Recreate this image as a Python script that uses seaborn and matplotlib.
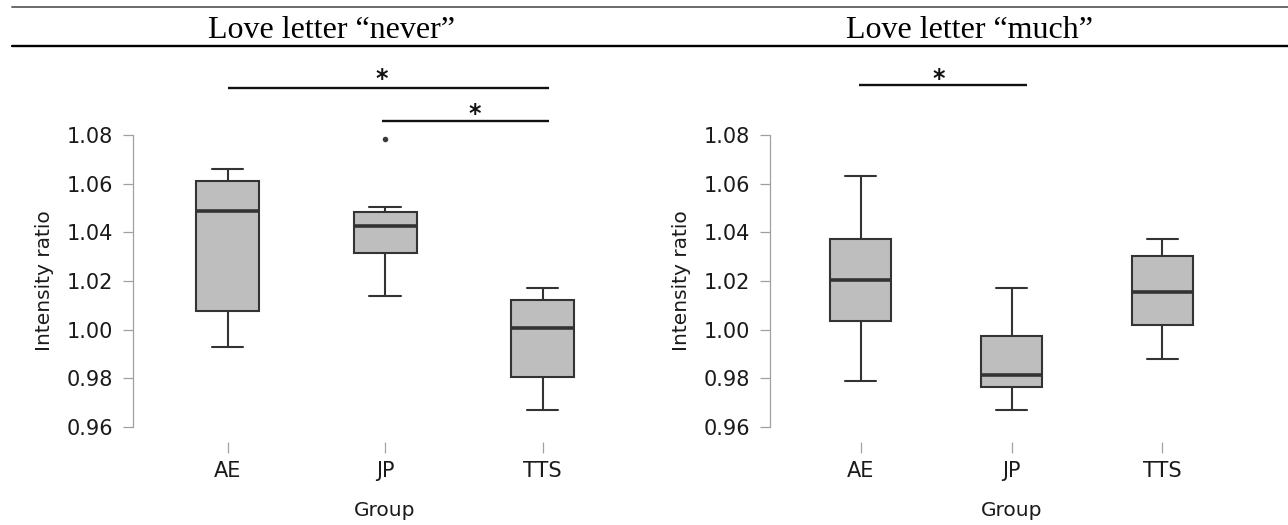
import numpy as np
import pandas as pd
import matplotlib
matplotlib.use("Agg")
import matplotlib.pyplot as plt
import matplotlib.transforms as mtransforms
from matplotlib.lines import Line2D
import seaborn as sns

# ---------------- data ----------------
groups = ["AE", "JP", "TTS"]

# Love letter "never": five-number summaries per group
never_min = [0.993, 1.014, 0.967]
never_q1 = [1.0076, 1.0315, 0.9805]
never_median = [1.0487, 1.0426, 1.0006]
never_q3 = [1.0610, 1.0485, 1.0122]
never_max = [1.066, 1.0503, 1.017]
never_outlier_groups = ["JP"]
never_outliers = [1.0784]

# Love letter "much"
much_min = [0.979, 0.967, 0.988]
much_q1 = [1.0035, 0.9765, 1.0018]
much_median = [1.0203, 0.9815, 1.0153]
much_q3 = [1.0373, 0.9973, 1.0302]
much_max = [1.063, 1.0172, 1.0372]

titles = ["Love letter \u201cnever\u201d", "Love letter \u201cmuch\u201d"]
y_ticks = [0.96, 0.98, 1.00, 1.02, 1.04, 1.06, 1.08]
y_label = "Intensity ratio"
x_label = "Group"

# significance annotations: (start group index, end group index)
never_sig = [(0.0, 2.04), (0.98, 2.04)]
much_sig = [(-0.01, 1.10)]


def long_frame(mins, q1s, meds, q3s, maxs):
    rows = []
    for g, a, b, c, d, e in zip(groups, mins, q1s, meds, q3s, maxs):
        for v in (a, b, c, d, e):
            rows.append({"Group": g, "ratio": v})
    return pd.DataFrame(rows)


never_df = long_frame(never_min, never_q1, never_median, never_q3, never_max)
much_df = long_frame(much_min, much_q1, much_median, much_q3, much_max)

# ---------------- style ----------------
sns.set_theme(style="ticks")
plt.rcParams["font.family"] = ["DejaVu Sans"]
TXT = "#1a1a1a"
AXC = "#a0a0a0"
LINEC = "#333333"

W, H = 1288, 525
fig = plt.figure(figsize=(W / 100, H / 100), dpi=100)
fig.patch.set_facecolor("white")

ax1 = fig.add_axes([133 / W, 98 / H, 504 / W, 292 / H])
ax2 = fig.add_axes([770 / W, 98 / H, 483 / W, 292 / H])


def draw_panel(ax, df, out_groups=None, outliers=None):
    sns.boxplot(
        data=df, x="Group", y="ratio", order=groups, ax=ax,
        color="#BEBEBE", saturation=1, width=0.4,
        linecolor=LINEC, linewidth=1.5, whis=np.inf, showfliers=False,
        medianprops=dict(linewidth=2.6, color=LINEC),
    )
    if outliers:
        sns.stripplot(x=out_groups, y=outliers, order=groups, ax=ax,
                      jitter=False, color="#3a3a3a", size=4.0, zorder=4)
    ax.set_xlim(-0.6, 2.6)
    ax.set_ylim(0.96, 1.08)
    ax.set_yticks(y_ticks)
    ax.set_yticklabels([f"{t:.2f}" for t in y_ticks])
    ax.set_xticks(range(len(groups)))
    ax.set_xticklabels(groups)
    for s in ("top", "right"):
        ax.spines[s].set_visible(False)
    ax.spines["bottom"].set_position(("outward", 10.8))
    ax.spines["bottom"].set_visible(False)
    ax.spines["left"].set_bounds(0.96, 1.08)
    ax.spines["left"].set_color(AXC)
    ax.spines["left"].set_linewidth(0.9)
    ax.tick_params(axis="x", length=7.9, width=0.9, color=AXC, pad=6,
                   labelsize=15, labelcolor=TXT, direction="out")
    ax.tick_params(axis="y", length=7.2, width=0.9, color=AXC, pad=7.2,
                   labelsize=15, labelcolor=TXT, direction="out")
    ax.set_ylabel(y_label, fontsize=14.5, color=TXT, labelpad=9)
    ax.set_xlabel(x_label, fontsize=14.5, color=TXT, labelpad=14.5)
    ax.set_facecolor("none")


draw_panel(ax1, never_df, never_outlier_groups, never_outliers)
draw_panel(ax2, much_df)


def sig_bar(ax, x0, x1, ybar, xstar, ystar):
    tr = mtransforms.blended_transform_factory(ax.transData, ax.transAxes)
    ax.plot([x0, x1], [ybar, ybar], transform=tr, clip_on=False,
            color="#111111", lw=1.7, solid_capstyle="butt")
    ax.text(xstar, ystar, "*", transform=tr, ha="center", va="baseline",
            fontsize=17, fontweight="bold", color="#111111", clip_on=False)


sig_bar(ax1, never_sig[0][0], never_sig[0][1], 1.161, 0.98, 1.168)
sig_bar(ax1, never_sig[1][0], never_sig[1][1], 1.048, 1.57, 1.049)
sig_bar(ax2, much_sig[0][0], much_sig[0][1], 1.171, 0.52, 1.168)

# ---------------- table-like header ----------------
fig.add_artist(Line2D([12 / W, 1.0], [1 - 7 / H, 1 - 7 / H], color="#6a6a6a", lw=1.4))
fig.add_artist(Line2D([12 / W, 1.0], [1 - 46 / H, 1 - 46 / H], color="black", lw=1.7))
fig.text(331 / W, 1 - 38 / H, titles[0], ha="center", va="baseline",
         family=["Liberation Serif", "DejaVu Serif"], fontsize=23, color="black")
fig.text(970 / W, 1 - 38 / H, titles[1], ha="center", va="baseline",
         family=["Liberation Serif", "DejaVu Serif"], fontsize=23, color="black")

fig.savefig("out.png", dpi=100, facecolor="white")
